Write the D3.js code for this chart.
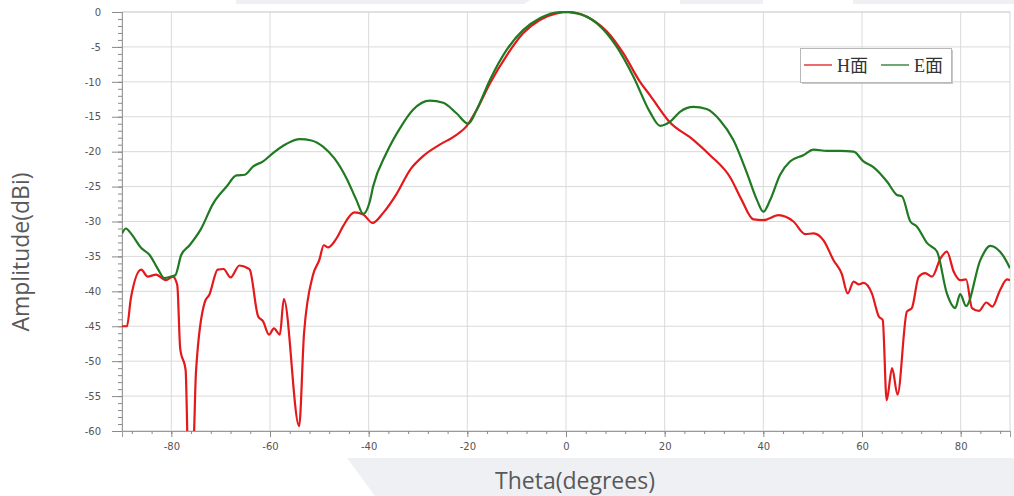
<!DOCTYPE html>
<html>
<head>
<meta charset="utf-8">
<script src="https://cdn.jsdelivr.net/npm/d3@7"></script>
<style>
  html, body { margin: 0; padding: 0; background: #fff; }
  svg { display: block; }
</style>
</head>
<body>
<svg id="chart" width="1014" height="496"></svg>
<script>
// ---------------- data ----------------
const seriesNames = ["H面", "E面"];
const seriesColors = ["#e3191c", "#1f7a22"];

const hTheta = [-90, -89, -88.2, -86.1, -84.8, -83.1, -81.1, -79.7, -78.8, -78.2, -77.1, -76.6, -75.6, -75.0,
  -73.2, -72.3, -70.6, -69.4, -68.0, -66.2, -64.5, -64.1, -62.4, -61.4, -60.2, -59.2, -58.0, -57.2, -54.1,
  -53.1, -51.3, -50.0, -49.1, -48.2, -46.5, -45.2, -42.9, -41.1, -39.2, -37.1, -34.3, -31.6, -28.9, -25.6,
  -22.2, -20.1, -18.1, -15.4, -12.0, -8.7, -5.3, -1.9, 0.8, 4.2, 8.3, 11.6, 15.0, 17.0, 17.7, 20.8, 25.8,
  29.2, 33.3, 35.6, 38.0, 40.0, 43.1, 46.1, 48.5, 50.2, 52.2, 54.2, 55.9, 57.1, 58.3, 59.3, 60.3, 62.0,
  63.4, 64.2, 65.0, 66.1, 67.2, 69.1, 70.1, 71.5, 72.8, 74.2, 75.9, 77.2, 78.6, 79.9, 81.1, 82.3, 83.7,
  85.2, 86.4, 88.0, 89.4, 90];
const hValues = [-45.0, -45.0, -41.0, -36.9, -37.9, -37.6, -38.4, -37.9, -39.1, -48.2, -51.3, -63, -63, -51.5,
  -41.5, -40.5, -36.9, -36.8, -38.0, -36.3, -36.7, -36.9, -43.6, -44.3, -46.2, -45.3, -46.2, -41.1, -59.3,
  -46.0, -37.7, -35.5, -33.4, -33.7, -32.4, -30.7, -28.7, -29.0, -30.2, -28.8, -26.0, -22.6, -20.6, -19.0,
  -17.6, -16.3, -14.0, -10.2, -6.2, -3.05, -1.15, -0.2, 0, -0.67, -2.8, -5.9, -10.0, -11.9, -12.6, -15.6, -18.3,
  -20.5, -23.7, -26.9, -29.7, -29.8, -29.1, -30.0, -31.8, -31.7, -32.7, -35.5, -37.5, -40.3, -38.6, -39.0, -38.8, -40.3,
  -43.6, -44.1, -55.6, -51.0, -54.8, -42.9, -42.4, -37.9, -37.4, -37.9, -35.3, -34.3, -37.2, -38.4, -38.3, -42.4, -42.8,
  -41.6, -42.2, -39.8, -38.3, -38.4];

const eTheta = [-90, -89.2, -88.2, -86.1, -84.4, -82.8, -81.4, -80.1, -79.2, -78.0, -76.3, -74.1, -71.5, -68.8,
  -66.8, -65.1, -63.4, -61.4, -59.4, -56.7, -54.0, -51.6, -49.2, -46.9, -44.5, -42.5, -41.1, -39.8, -39.1,
  -36.4, -33.7, -31.0, -27.6, -24.9, -22.2, -19.8, -18.1, -15.4, -12.0, -8.7, -5.3, -1.2, 2.2, 6.2, 10.3,
  13.7, 17.0, 19.1, 21.1, 23.1, 25.8, 28.5, 31.2, 33.9, 36.7, 38.7, 40.0, 41.4, 43.4, 45.4, 48.1, 50.2,
  52.9, 55.6, 58.3, 60.3, 62.3, 65.1, 67.1, 68.1, 69.8, 71.1, 73.2, 75.2, 77.2, 78.9, 79.9, 81.1, 84.0,
  86.0, 88.7, 90];
const eValues = [-31.7, -31.0, -31.7, -33.8, -34.8, -36.7, -38.1, -37.9, -37.7, -34.8, -33.4, -31.2, -27.4, -25.0,
  -23.4, -23.3, -22.1, -21.4, -20.2, -18.9, -18.2, -18.4, -19.3, -21.0, -23.8, -26.9, -28.9, -27.2, -25.0,
  -20.2, -16.7, -14.0, -12.7, -13.0, -14.5, -16.0, -14.0, -9.7, -5.4, -2.6, -0.9, 0, -0.2, -1.6, -5.0,
  -9.3, -14.3, -16.3, -15.7, -14.3, -13.6, -13.9, -15.5, -18.3, -23.1, -26.9, -28.6, -26.9, -23.3, -21.4, -20.5, -19.7,
  -19.9, -19.9, -20.0, -21.4, -22.2, -24.3, -26.2, -26.4, -30.0, -30.7, -33.1, -34.3, -40.3, -42.4, -40.4, -42.1, -35.5,
  -33.5, -35.0, -36.7];

const xTickValues = [-80, -60, -40, -20, 0, 20, 40, 60, 80];
const yTickValues = [0, -5, -10, -15, -20, -25, -30, -35, -40, -45, -50, -55, -60];
const xTitle = "Theta(degrees)";
const yTitle = "Amplitude(dBi)";

// ---------------- drawing ----------------
const svg = d3.select("#chart");
const L = 122, R = 1010, T = 12, B = 431;

// decorative background bands
svg.append("path").attr("d", "M236,0 L530,0 L524,4 L236,4 Z").attr("fill", "#eef0f3");
svg.append("path").attr("d", "M680,0 L763,0 L763,4 L680,4 Z").attr("fill", "#eef0f3");
svg.append("path").attr("d", "M853,0 L1014,0 L1014,4 L853,4 Z").attr("fill", "#eef0f3");
svg.append("path").attr("d", "M347,458 L1014,458 L1014,496 L375,496 Z").attr("fill", "#eef0f4");

const x = d3.scaleLinear().domain([-90, 90]).range([L, R]);
const y = d3.scaleLinear().domain([-60, 0]).range([B, T]);

// grid
const grid = svg.append("g");
grid.selectAll("line.v").data(xTickValues).join("line")
  .attr("x1", d => x(d)).attr("x2", d => x(d)).attr("y1", T).attr("y2", B)
  .attr("stroke", "#dadada").attr("stroke-width", 1);
grid.selectAll("line.h").data(yTickValues).join("line")
  .attr("x1", L).attr("x2", R).attr("y1", d => y(d)).attr("y2", d => y(d))
  .attr("stroke", "#dadada").attr("stroke-width", 1);
svg.append("rect").attr("x", L).attr("y", T).attr("width", R - L).attr("height", B - T)
  .attr("fill", "none").attr("stroke", "#d6d6d6");

// axes
const fmt = d => String(d);
const yAxis = svg.append("g").attr("transform", `translate(${L},0)`)
  .call(d3.axisLeft(y).tickValues(yTickValues).tickFormat(fmt).tickSize(10).tickPadding(11));
const yMinor = svg.append("g").attr("transform", `translate(${L},0)`)
  .call(d3.axisLeft(y).tickValues(d3.range(-60, 1, 1)).tickFormat("").tickSize(4));
const xAxis = svg.append("g").attr("transform", `translate(0,${B})`)
  .call(d3.axisBottom(x).tickValues(xTickValues).tickFormat(fmt).tickSize(6).tickPadding(6));
const xMinor = svg.append("g").attr("transform", `translate(0,${B})`)
  .call(d3.axisBottom(x).tickValues(d3.range(-88, 90, 4)).tickFormat("").tickSize(3));
[yAxis, yMinor, xAxis, xMinor].forEach(g => {
  g.select(".domain").attr("stroke", "#9a9a9a");
  g.selectAll(".tick line").attr("stroke", "#8a8a8a");
  g.selectAll(".tick text").attr("fill", "#555").attr("font-family", "DejaVu Sans, Verdana, sans-serif").attr("font-size", 10);
});

// clip
svg.append("defs").append("clipPath").attr("id", "plotclip")
  .append("rect").attr("x", L).attr("y", T - 2).attr("width", R - L).attr("height", B - T + 2);

const line = d3.line().x(d => x(d[0])).y(d => y(d[1])).curve(d3.curveMonotoneX);
const series = [
  d3.zip(hTheta, hValues),
  d3.zip(eTheta, eValues)
];
const plot = svg.append("g").attr("clip-path", "url(#plotclip)");
series.forEach((s, i) => {
  plot.append("path").datum(s).attr("d", line)
    .attr("fill", "none").attr("stroke", seriesColors[i]).attr("stroke-width", 2.2)
    .attr("stroke-linejoin", "round");
});

// legend
const lg = svg.append("g");
lg.append("rect").attr("x", 802).attr("y", 50).attr("width", 151).attr("height", 34).attr("fill", "#c8c8c8");
lg.append("rect").attr("x", 800.5).attr("y", 48.5).attr("width", 151).attr("height", 34)
  .attr("fill", "#fff").attr("stroke", "#b8b8b8");
const legX = [804, 881];
seriesNames.forEach((n, i) => {
  lg.append("line").attr("x1", legX[i]).attr("x2", legX[i] + 28).attr("y1", 65).attr("y2", 65)
    .attr("stroke", seriesColors[i]).attr("stroke-width", 1.3);
  lg.append("text").attr("x", legX[i] + 33).attr("y", 72).text(n)
    .attr("font-family", "Liberation Serif, Noto Sans CJK SC, serif").attr("font-size", 18).attr("fill", "#333");
});

// titles
svg.append("text").attr("x", 575).attr("y", 489).attr("text-anchor", "middle")
  .attr("font-family", "Open Sans, sans-serif").attr("font-size", 23).attr("fill", "#595959").text(xTitle);
svg.append("text").attr("transform", "translate(29,252) rotate(-90)").attr("text-anchor", "middle")
  .attr("font-family", "Open Sans, sans-serif").attr("font-size", 23).attr("fill", "#595959").text(yTitle);
</script>
</body>
</html>
